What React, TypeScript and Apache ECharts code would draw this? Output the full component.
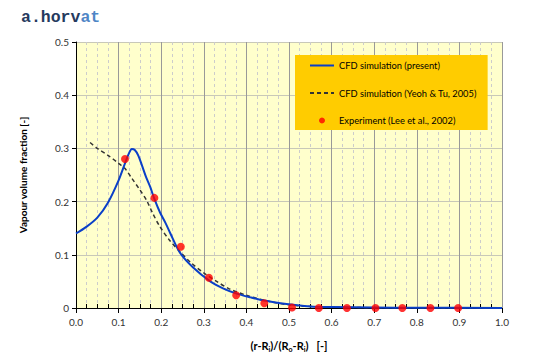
import React, { useEffect, useRef } from "react";
import * as echarts from "echarts";

const presentX = [0, 0.025, 0.05, 0.075, 0.1, 0.115, 0.125, 0.131, 0.138, 0.146, 0.154, 0.165, 0.174, 0.184, 0.197, 0.21, 0.221, 0.244, 0.275, 0.315, 0.345, 0.377, 0.41, 0.442, 0.48, 0.51, 0.55, 0.6, 0.7, 0.8, 1.0];
const presentY = [0.14, 0.153, 0.17, 0.198, 0.24, 0.272, 0.292, 0.299, 0.297, 0.287, 0.27, 0.245, 0.228, 0.205, 0.18, 0.16, 0.141, 0.104, 0.076, 0.05, 0.037, 0.027, 0.02, 0.014, 0.009, 0.006, 0.003, 0.002, 0.001, 0.0005, 0];

const yeohX = [0.033, 0.05, 0.075, 0.1, 0.115, 0.13, 0.15, 0.166, 0.18, 0.197, 0.22, 0.244, 0.27, 0.3, 0.33, 0.36, 0.4, 0.45, 0.5, 0.55, 0.6, 0.7, 0.8, 0.9, 1.0];
const yeohY = [0.311, 0.3, 0.287, 0.272, 0.262, 0.245, 0.222, 0.202, 0.178, 0.153, 0.127, 0.106, 0.085, 0.066, 0.05, 0.036, 0.024, 0.013, 0.006, 0.003, 0.0015, 0.0005, 0.0002, 0, 0];

const expX = [0.115, 0.184, 0.246, 0.312, 0.376, 0.442, 0.507, 0.57, 0.636, 0.703, 0.766, 0.832, 0.897];
const expY = [0.28, 0.207, 0.115, 0.057, 0.024, 0.009, 0.001, 0, 0, 0, 0, 0, 0];

const seriesNames = ["CFD simulation (present)", "CFD simulation (Yeoh & Tu, 2005)", "Experiment (Lee et al., 2002)"];
const yAxisTitle = "Vapour volume fraction [-]";

const zip = (xs: number[], ys: number[]) => xs.map((x, i) => [x, ys[i]]);

export default function App() {
  const ref = useRef<HTMLDivElement>(null);
  useEffect(() => {
    if (!ref.current) return;
    const chart = echarts.init(ref.current, null, { renderer: "svg" });
    const font = "Lato";
    chart.setOption({
      animation: false,
      backgroundColor: "#ffffff",
      title: {
        text: "{a|a.horv}{b|at}",
        left: 16,
        top: 4,
        textStyle: {
          rich: {
            a: { fontFamily: "Liberation Mono", fontWeight: "bold", fontSize: 16.5, color: "#253a5e" },
            b: { fontFamily: "Liberation Mono", fontWeight: "bold", fontSize: 16.5, color: "#4f86c6" },
          },
        },
      },
      grid: {
        left: 76,
        right: 58,
        top: 42,
        bottom: 54,
        show: true,
        backgroundColor: "#ffffcc",
        borderWidth: 0,
      },
      legend: {
        orient: "vertical",
        left: 295,
        top: 55,
        backgroundColor: "#ffcc00",
        padding: [6, 11, 5, 14],
        itemWidth: 24,
        itemHeight: 6,
        itemGap: 18.5,
        data: [
          { name: seriesNames[0], itemStyle: { opacity: 0 } },
          { name: seriesNames[1], itemStyle: { opacity: 0 } },
          { name: seriesNames[2] },
        ],
        textStyle: { fontFamily: font, fontSize: 9.3, color: "#000" },
      },
      xAxis: {
        type: "value",
        min: 0,
        max: 1,
        interval: 0.1,
        name: "(r-R{s|i})/(R{s|o}-R{s|i})   [-]",
        nameLocation: "middle",
        nameGap: 31,
        nameTextStyle: {
          fontFamily: font,
          fontWeight: "bold",
          fontSize: 11,
          color: "#000",
          rich: { s: { fontFamily: font, fontWeight: "bold", fontSize: 7, color: "#000", verticalAlign: "bottom", padding: [6, 0, 0, 0] } },
        },
        axisLine: { lineStyle: { color: "#000", width: 1 } },
        axisTick: { show: true, length: 5, lineStyle: { color: "#000" } },
        minorTick: { show: true, splitNumber: 4, length: -4, lineStyle: { color: "#000" } },
        axisLabel: { fontFamily: font, fontSize: 10, color: "#333", margin: 9, formatter: (v: number) => v.toFixed(1) },
        splitLine: { show: true, lineStyle: { color: "#999", width: 1 } },
        minorSplitLine: { show: true, lineStyle: { color: "#cccccc", type: [3, 3], width: 1 } },
      },
      yAxis: {
        type: "value",
        min: 0,
        max: 0.5,
        interval: 0.1,
        name: yAxisTitle,
        nameLocation: "middle",
        nameGap: 48,
        nameTextStyle: { fontFamily: font, fontWeight: "bold", fontSize: 10, color: "#000" },
        axisLine: { show: true, lineStyle: { color: "#000", width: 1 } },
        axisTick: { show: true, length: 4, lineStyle: { color: "#000" } },
        axisLabel: { fontFamily: font, fontSize: 10, color: "#333", margin: 7, formatter: (v: number) => (v === 0 ? "0" : v.toFixed(1)) },
        splitLine: { show: true, lineStyle: { color: "#c8c8b8", width: 1 } },
      },
      series: [
        {
          name: seriesNames[0],
          type: "line",
          data: zip(presentX, presentY),
          symbol: "none",
          smooth: 0.3,
          lineStyle: { color: "#0a3fc8", width: 2 },
          itemStyle: { color: "#0a3fc8" },
          z: 3,
        },
        {
          name: seriesNames[1],
          type: "line",
          data: zip(yeohX, yeohY),
          symbol: "none",
          smooth: 0.3,
          lineStyle: { color: "#333333", width: 1.5, type: [4, 3] },
          itemStyle: { color: "#333333" },
          z: 2,
        },
        {
          name: seriesNames[2],
          type: "scatter",
          data: zip(expX, expY),
          symbol: "circle",
          symbolSize: 8,
          itemStyle: { color: "#ff0000" },
          z: 4,
        },
      ],
    });
    return () => chart.dispose();
  }, []);
  return <div ref={ref} style={{ position: "fixed", left: 0, top: 0, width: 560, height: 362 }} />;
}
